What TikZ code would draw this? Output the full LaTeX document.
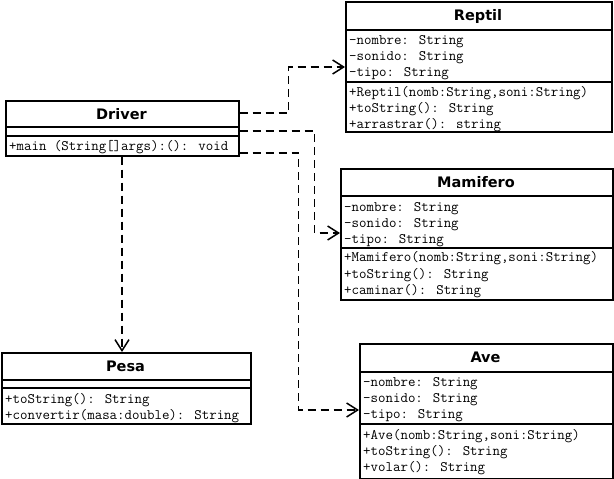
\documentclass[tikz,border=0pt]{standalone}
\usepackage{fontspec}
\setmainfont{DejaVu Sans}
\usetikzlibrary{arrows.meta}
\begin{document}
\begin{tikzpicture}[x=1pt,y=-1pt,
 box/.style={draw, line width=1.5pt, inner sep=0pt, anchor=north west},
 sepline/.style={line width=1.5pt},
 ttl/.style={font=\fontsize{14.5}{16}\selectfont\bfseries, anchor=base, inner sep=0pt},
 mono/.style={font=\ttfamily\fontsize{14.5}{15}\selectfont, anchor=base west, inner sep=0pt},
 dep/.style={line width=1.5pt, dash pattern=on 8pt off 5pt, -{Straight Barb[length=11pt,width=14pt,line width=1.5pt]}}
]
\fill[white] (0,0) rectangle (614,479);
\useasboundingbox (0,0) rectangle (614,479);

% Reptil
\node[box, minimum width=266pt, minimum height=130pt] (reptil) at (345,1) {};
\draw[sepline] (reptil.west |- 0,30) -- (reptil.east |- 0,30);
\draw[sepline] (reptil.west |- 0,82) -- (reptil.east |- 0,82);
\node[ttl] (reptilT) at (478,20) {Reptil};
\node[mono] (r1) at (349,44) {-nombre: String};
\node[mono] (r2) at (349,60) {-sonido: String};
\node[mono] (r3) at (349,76) {-tipo: String};
\node[mono] (r4) at (349,96) {+Reptil(nomb:String,soni:String)};
\node[mono] (r5) at (349,112) {+toString(): String};
\node[mono] (r6) at (349,128) {+arrastrar(): string};

% Driver
\node[box, minimum width=233pt, minimum height=55pt] (driver) at (5,100) {};
\draw[sepline] (driver.west |- 0,127) -- (driver.east |- 0,127);
\draw[sepline] (driver.west |- 0,136) -- (driver.east |- 0,136);
\node[ttl] (driverT) at (121.5,119) {Driver};
\node[mono] (d1) at (9,150) {+main (String[]args):(): void};

% Mamifero
\node[box, minimum width=272pt, minimum height=131pt] (mamifero) at (340,168) {};
\draw[sepline] (mamifero.west |- 0,196) -- (mamifero.east |- 0,196);
\draw[sepline] (mamifero.west |- 0,248) -- (mamifero.east |- 0,248);
\node[ttl] (mamiferoT) at (476,187) {Mamifero};
\node[mono] (m1) at (344,211) {-nombre: String};
\node[mono] (m2) at (344,227) {-sonido: String};
\node[mono] (m3) at (344,243) {-tipo: String};
\node[mono] (m4) at (344,261) {+Mamifero(nomb:String,soni:String)};
\node[mono] (m5) at (344,278) {+toString(): String};
\node[mono] (m6) at (344,294) {+caminar(): String};

% Pesa
\node[box, minimum width=249pt, minimum height=71pt] (pesa) at (1,352) {};
\draw[sepline] (pesa.west |- 0,380) -- (pesa.east |- 0,380);
\draw[sepline] (pesa.west |- 0,388) -- (pesa.east |- 0,388);
\node[ttl] (pesaT) at (125.5,371) {Pesa};
\node[mono] (p1) at (5,403) {+toString(): String};
\node[mono] (p2) at (5,419) {+convertir(masa:double): String};

% Ave
\node[box, minimum width=253pt, minimum height=135pt] (ave) at (359,343) {};
\draw[sepline] (ave.west |- 0,372) -- (ave.east |- 0,372);
\draw[sepline] (ave.west |- 0,424) -- (ave.east |- 0,424);
\node[ttl] (aveT) at (485.5,362) {Ave};
\node[mono] (a1) at (363,386) {-nombre: String};
\node[mono] (a2) at (363,402) {-sonido: String};
\node[mono] (a3) at (363,418) {-tipo: String};
\node[mono] (a4) at (363,439) {+Ave(nomb:String,soni:String)};
\node[mono] (a5) at (363,455) {+toString(): String};
\node[mono] (a6) at (363,471) {+volar(): String};

% Dependencies
\draw[dep] (driver.east |- 0,113) -- ++(49,0) |- (reptil.west |- 0,67);
\draw[dep] (driver.east |- 0,131) -- ++(75,0) |- (mamifero.west |- 0,233);
\draw[dep] (driver.east |- 0,153) -- ++(59,0) |- (ave.west |- 0,410);
\draw[dep] (driver.south -| 122,0) -- (pesa.north -| 122,0);
\end{tikzpicture}
\end{document}
